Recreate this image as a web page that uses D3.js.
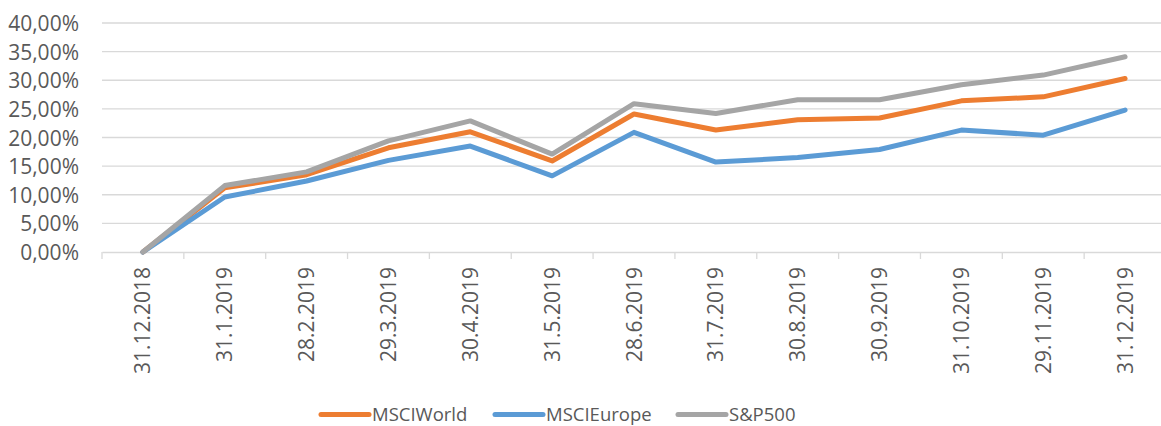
<!DOCTYPE html>
<html><head><meta charset="utf-8">
<script src="https://cdn.jsdelivr.net/npm/d3@7"></script>
<style>body{margin:0;background:#fff;overflow:hidden}svg{display:block}</style>
</head><body><svg id="c" width="1161" height="426"></svg>
<script>
const categories = ["31.12.2018","31.1.2019","28.2.2019","29.3.2019","30.4.2019","31.5.2019","28.6.2019","31.7.2019","30.8.2019","30.9.2019","31.10.2019","29.11.2019","31.12.2019"];
const msciWorld  = [0, 11.2, 13.5, 18.2, 21.0, 15.9, 24.1, 21.3, 23.1, 23.4, 26.4, 27.1, 30.3];
const msciEurope = [0, 9.6, 12.4, 16.0, 18.5, 13.3, 20.9, 15.7, 16.5, 17.9, 21.3, 20.4, 24.8];
const sp500      = [0, 11.6, 14.0, 19.4, 22.9, 17.1, 25.9, 24.2, 26.6, 26.6, 29.2, 30.9, 34.1];
const yTicks = [0,5,10,15,20,25,30,35,40];
const seriesNames = ["MSCIWorld","MSCIEurope","S&P500"];
const seriesColors = ["#ED7D31","#5B9BD5","#A5A5A5"];
const seriesData = [msciWorld, msciEurope, sp500];

(function(){
const svg = d3.select("#c");
const font = "'Open Sans', 'Liberation Sans', sans-serif";
const textColor = "#595959";
const pL = 102, pR = 1166, pT = 23, pB = 252;

const x = d3.scaleBand().domain(categories).range([pL, pR]).padding(0);
const y = d3.scaleLinear().domain([0, 40]).range([pB, pT]);

// gridlines
svg.append("g").selectAll("line").data(yTicks.filter(d=>d>0)).join("line")
  .attr("x1", pL).attr("x2", pR)
  .attr("y1", d=>y(d)).attr("y2", d=>y(d))
  .attr("stroke", "#d9d9d9").attr("stroke-width", 1.3);

// y axis labels
const fmt = d => d.toFixed(2).replace(".", ",") + "%";
const yAxis = d3.axisLeft(y).tickValues(yTicks).tickFormat(fmt).tickSize(0).tickPadding(0);
const gy = svg.append("g").attr("transform", `translate(79,0)`).call(yAxis);
gy.select(".domain").remove();
gy.selectAll("text").attr("font-family", font).attr("font-size", 21).attr("fill", textColor).attr("dy", "0.36em");

// x axis
const xAxis = d3.axisBottom(x).tickSize(0);
const gx = svg.append("g").attr("transform", `translate(0,${pB})`).call(xAxis);
gx.select(".domain").attr("stroke", "#d9d9d9").attr("stroke-width", 1.3);
gx.selectAll("text")
  .attr("font-family", font).attr("font-size", 21).attr("fill", textColor)
  .attr("text-anchor", "end")
  .attr("transform", "rotate(-90)")
  .attr("x", -15).attr("y", 0).attr("dy", "0.36em");
// band boundary ticks
svg.append("g").selectAll("line").data(categories).join("line")
  .attr("x1", d=>x(d)).attr("x2", d=>x(d))
  .attr("y1", pB).attr("y2", pB + 7)
  .attr("stroke", "#d9d9d9").attr("stroke-width", 1.3);

// lines
const line = d3.line().x((d,i)=>x(categories[i]) + x.bandwidth()/2).y(d=>y(d));
seriesData.forEach((s, k) => {
  svg.append("path").datum(s).attr("d", line)
    .attr("fill", "none").attr("stroke", seriesColors[k])
    .attr("stroke-width", 5).attr("stroke-linejoin", "round").attr("stroke-linecap", "round");
});

// legend
const legendX = [321, 495, 678];
const lg = svg.append("g");
seriesNames.forEach((n, k) => {
  lg.append("line").attr("x1", legendX[k]).attr("x2", legendX[k] + 48)
    .attr("y1", 414.5).attr("y2", 414.5)
    .attr("stroke", seriesColors[k]).attr("stroke-width", 5).attr("stroke-linecap", "round");
  lg.append("text").attr("x", legendX[k] + 51).attr("y", 414).attr("dy", "0.36em")
    .attr("font-family", font).attr("font-size", 18.5).attr("fill", textColor).text(n);
});
})();
</script></body></html>
